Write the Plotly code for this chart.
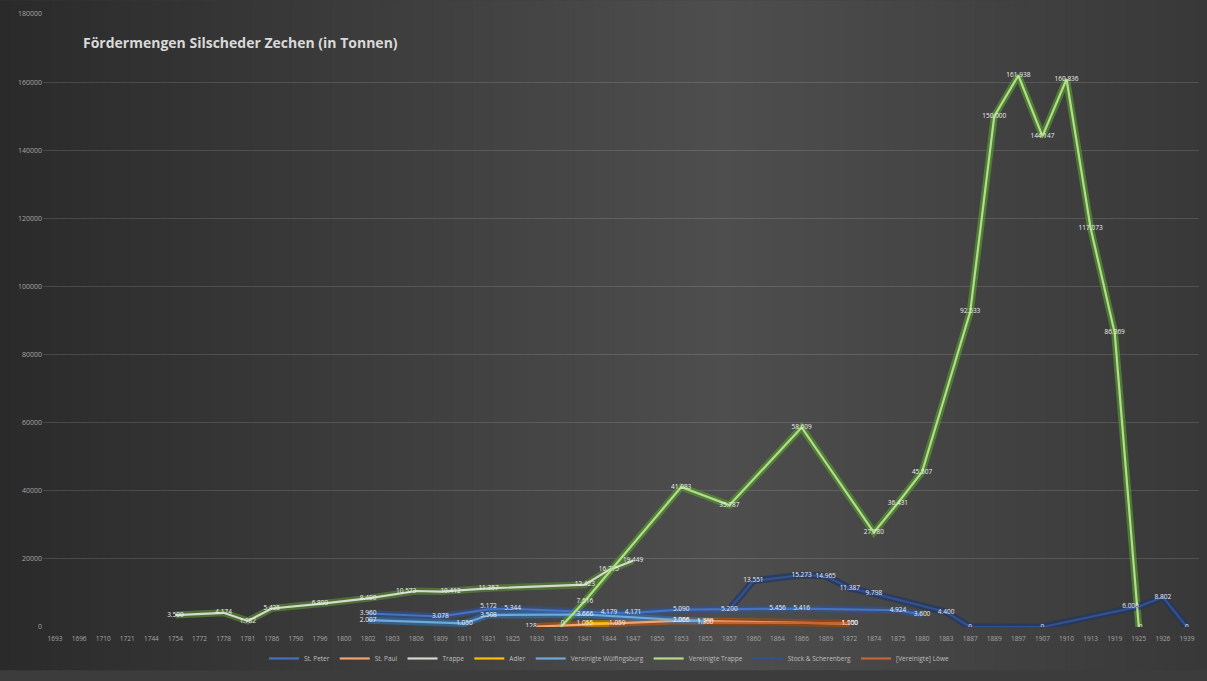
import plotly.graph_objects as go

years = ["1693","1696","1710","1721","1744","1754","1772","1778","1781","1786",
         "1790","1796","1800","1802","1803","1806","1809","1811","1821","1825",
         "1830","1835","1841","1844","1847","1850","1853","1855","1857","1860",
         "1864","1866","1869","1872","1874","1875","1880","1883","1887","1889",
         "1897","1907","1910","1913","1919","1925","1926","1939"]

N = None
st_peter = [N,N,N,N,N,N,N,N,N,N, N,N,N,3960,N,N,3078,N,5172,5344,
            N,N,N,4179,4171,N,5090,N,N,N, 5456,5416,N,N,N,4924,3600,N,N,N,
            N,N,N,N,N,N,N,N]
st_paul = [N,N,N,N,N,N,N,N,N,N, N,N,N,N,N,N,N,N,N,N,
           128,N,N,N,N,N,1866,N,N,N, N,N,N,1000,N,N,N,N,N,N,
           N,N,N,N,N,N,N,N]
trappe = [N,N,N,N,N,3500,N,4174,1782,5425, N,6800,N,8400,N,10573,10412,N,11357,N,
          N,N,12423,16775,19449,N,N,N,N,N, N,N,N,N,N,N,N,N,N,N,
          N,N,N,N,N,N,N,N]
adler = [N,N,N,N,N,N,N,N,N,N, N,N,N,N,N,N,N,N,N,N,
         N,N,1055,1059,N,N,N,N,N,N, N,N,N,N,N,N,N,N,N,N,
         N,N,N,N,N,N,N,N]
v_wuelfingsburg = [N,N,N,N,N,N,N,N,N,N, N,N,N,2007,N,N,N,1050,3508,N,
                   N,N,3666,N,N,N,2006,1700,N,N, N,N,N,N,N,N,N,N,N,N,
                   N,N,N,N,N,N,N,N]
v_trappe = [N,N,N,N,N,N,N,N,N,N, N,N,N,N,N,N,N,N,N,N,
            N,0,7616,N,N,N,41083,N,35787,N, N,58609,N,N,27780,36431,45507,N,92533,150000,
            161938,144147,160836,117073,86369,0,N,N]
stock_scherenberg = [N,N,N,N,N,N,N,N,N,N, N,N,N,N,N,N,N,N,N,N,
                     N,N,N,N,N,N,N,N,5200,13551, N,15273,14965,11387,9798,N,N,4400,0,N,
                     N,0,N,N,N,6000,8802,0]
v_loewe = [N,N,N,N,N,N,N,N,N,N, N,N,N,N,N,N,N,N,N,N,
           N,N,N,N,N,N,N,1300,N,N, N,N,N,1150,N,N,N,N,N,N,
           N,N,N,N,N,N,N,N]

series = [
    ("St. Peter", st_peter, "#4472C4", "rgba(47,85,151,0.55)"),
    ("St. Paul", st_paul, "#F4A46A", "rgba(197,90,17,0.6)"),
    ("Trappe", trappe, "#D4D9CC", "rgba(84,130,53,0.75)"),
    ("Adler", adler, "#FFC000", "rgba(191,144,0,0.5)"),
    ("Vereinigte Wülfingsburg", v_wuelfingsburg, "#6FA8DC", "rgba(46,117,182,0.6)"),
    ("Vereinigte Trappe", v_trappe, "#B4DC8C", "rgba(84,140,50,0.8)"),
    ("Stock & Scherenberg", stock_scherenberg, "#34508F", "rgba(31,56,100,0.7)"),
    ("[Vereinigte] Löwe", v_loewe, "#C8643A", "rgba(132,60,12,0.6)"),
]

def fmt(v):
    if v is None:
        return None
    return f"{v:,}".replace(",", ".")

# per-label nudges to keep neighbouring labels from colliding
label_pos = {
    ("Trappe", 15): "middle left",
    ("Trappe", 16): "middle right",
    ("St. Peter", 18): "top center",
    ("Stock & Scherenberg", 45): "middle left",
    ("Vereinigte Trappe", 45): "middle right",
    ("Vereinigte Trappe", 21): "top right",
    ("St. Paul", 20): "middle left",
    ("Adler", 22): "middle center",
    ("Adler", 23): "middle right",
}

fig = go.Figure()

# background gradient (decoration)
def lerp(a, b, t):
    return tuple(int(round(a[i] + (b[i] - a[i]) * t)) for i in range(3))
left_c, mid_c, right_c = (42, 42, 42), (78, 78, 78), (56, 56, 56)
W, H = 1207, 681
l, r, t, b = 43, 8, 14, 44
pw, ph = W - l - r, H - t - b
nstrip = 120
for k in range(nstrip):
    f = (k + 0.5) / nstrip
    if f < 0.6:
        c = lerp(left_c, mid_c, f / 0.6)
    else:
        c = lerp(mid_c, right_c, (f - 0.6) / 0.4)
    px0 = k * W / nstrip
    px1 = (k + 1) * W / nstrip + 1
    fig.add_shape(type="rect", xref="paper", yref="paper",
                  x0=(px0 - l) / pw, x1=(px1 - l) / pw,
                  y0=-b / ph, y1=(ph + t) / ph,
                  fillcolor="rgb(%d,%d,%d)" % c, line_width=0, layer="below")

# glow underlays
for name, vals, core, glow in series:
    fig.add_trace(go.Scatter(x=years, y=vals, mode="lines", connectgaps=True,
                             line=dict(color=glow, width=7), showlegend=False,
                             hoverinfo="skip"))
# core lines with labels
for name, vals, core, glow in series:
    positions = [label_pos.get((name, i), "middle center") for i in range(len(vals))]
    fig.add_trace(go.Scatter(x=years, y=vals, mode="lines+text", connectgaps=True,
                             name=name, line=dict(color=core, width=2.2),
                             text=[fmt(v) for v in vals], textposition=positions,
                             textfont=dict(size=6.5, color="#eeeeee", family="Open Sans")))

fig.update_layout(
    width=W, height=H,
    margin=dict(l=l, r=r, t=t, b=b),
    paper_bgcolor="#3c3c3c",
    plot_bgcolor="rgba(0,0,0,0)",
    title=dict(text="<b>Fördermengen Silscheder Zechen (in Tonnen)</b>",
               x=83 / W, xref="container", xanchor="left",
               y=1 - 43 / H, yref="container", yanchor="middle",
               font=dict(size=14, color="#d9d9d9", family="Open Sans")),
    xaxis=dict(type="category", categoryorder="array", categoryarray=years,
               range=[-0.5, len(years) - 0.5], autorange=False,
               showgrid=False, showline=False, zeroline=False, ticks="",
               ticklabelstandoff=6,
               tickfont=dict(size=6.5, color="#a6a6a6", family="Open Sans"),
               tickangle=0),
    yaxis=dict(range=[0, 180000], dtick=20000, tickformat="d",
               showgrid=True, gridcolor="rgba(255,255,255,0.13)", gridwidth=1,
               zeroline=False, showline=False, ticks="",
               tickfont=dict(size=7, color="#a6a6a6", family="Open Sans")),
    legend=dict(orientation="h", x=0.49, xanchor="center", y=-32 / ph, yanchor="middle",
                font=dict(size=6.5, color="#bfbfbf", family="Open Sans"),
                bgcolor="rgba(0,0,0,0)", itemwidth=30, tracegroupgap=0),
    showlegend=True,
)

fig.write_html("out.html")
